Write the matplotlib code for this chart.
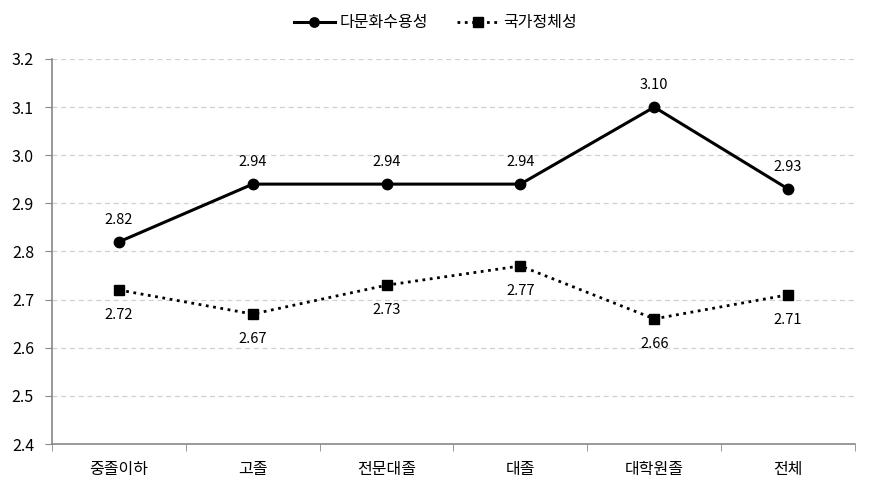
import numpy as np
import matplotlib
matplotlib.use("Agg")
from matplotlib import pyplot as plt
from matplotlib.ticker import FixedLocator

plt.rcParams['font.family'] = ['Noto Sans CJK KR', 'DejaVu Sans']

categories = ['중졸이하', '고졸', '전문대졸', '대졸', '대학원졸', '전체']
multicultural = [2.82, 2.94, 2.94, 2.94, 3.10, 2.93]
national = [2.72, 2.67, 2.73, 2.77, 2.66, 2.71]
series_names = ['다문화수용성', '국가정체성']

fig = plt.figure(figsize=(8.71, 4.94), dpi=100)
ax = fig.add_axes([0.0597, 0.1012, 0.9219, 0.7794])

x = np.arange(len(categories))
ax.plot(x, multicultural, color='black', lw=2.2, marker='o', ms=7.5, label=series_names[0])
ax.plot(x, national, color='black', lw=2.0, ls=':', marker='s', ms=7.5, label=series_names[1])

for xi, v in zip(x, multicultural):
    ax.annotate(f'{v:.2f}', (xi, v), xytext=(0, 11), textcoords='offset points',
                ha='center', va='bottom', fontsize=10.5)
for xi, v in zip(x, national):
    ax.annotate(f'{v:.2f}', (xi, v), xytext=(0, -13), textcoords='offset points',
                ha='center', va='top', fontsize=10.5)

ax.set_xlim(-0.5, len(categories) - 0.5)
ax.set_ylim(2.4, 3.2)
ax.set_yticks(np.arange(2.4, 3.21, 0.1))
ax.set_yticklabels([f'{t:.1f}' for t in np.arange(2.4, 3.21, 0.1)], fontsize=11.5)
ax.set_xticks(x)
ax.set_xticklabels(categories, fontsize=11.5)
ax.tick_params(axis='x', which='major', length=0, pad=12)
ax.xaxis.set_minor_locator(FixedLocator(np.arange(-0.5, len(categories), 1.0)))
ax.tick_params(axis='x', which='minor', length=5, color='#888888')
ax.tick_params(axis='y', length=5, color='#888888', pad=8)

ax.grid(axis='y', color='#d0d0d0', ls=(0, (4, 3)), lw=0.9)
ax.set_axisbelow(True)
for s in ['top', 'right']:
    ax.spines[s].set_visible(False)
for s in ['left', 'bottom']:
    ax.spines[s].set_color('#888888')
    ax.spines[s].set_linewidth(1.2)

fig.legend(loc='upper center', bbox_to_anchor=(0.5, 1.0), ncol=2, frameon=False,
           fontsize=11.5, handlelength=2.6, columnspacing=1.8, handletextpad=0.3,
           markerscale=0.9)

fig.savefig('out.png', dpi=100)
